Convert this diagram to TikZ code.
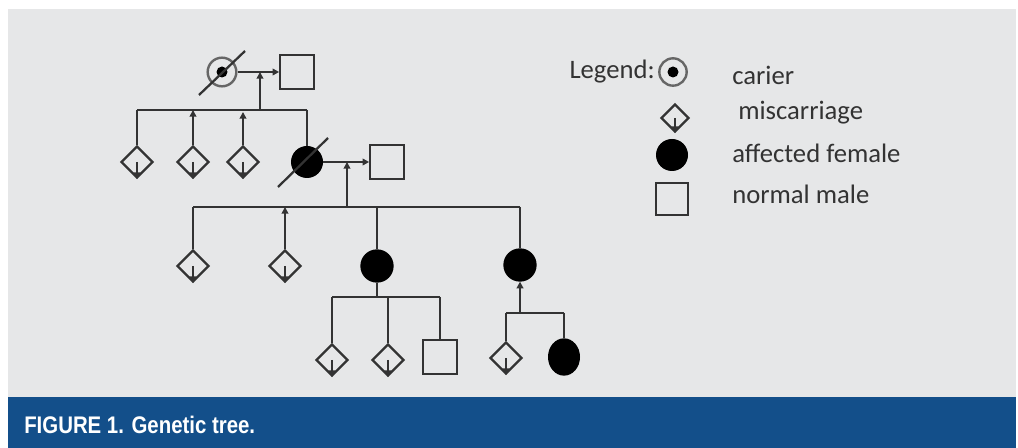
\documentclass[tikz,border=0pt]{standalone}
\usepackage{fontspec}
\setmainfont{Carlito}
\newfontfamily\capfont[FakeStretch=0.85]{Liberation Sans}
\usetikzlibrary{shapes.geometric,arrows.meta}
\definecolor{panel}{HTML}{E6E7E8}
\definecolor{bar}{HTML}{134F8A}
\definecolor{ink}{HTML}{333333}
\begin{document}
\begin{tikzpicture}[x=0.75pt,y=-0.75pt,
  line/.style={draw=ink,line width=1.7pt},
  tip/.style={-{Triangle[length=5pt,width=5pt]}},
  miss/.style={diamond,draw=ink,line width=1.7pt,minimum width=24pt,minimum height=24pt,inner sep=0pt},
  aff/.style={circle,fill=black,draw=black,line width=1pt,minimum size=23pt,inner sep=0pt},
  male/.style={rectangle,draw=ink,line width=1.7pt,minimum size=25pt,inner sep=0pt},
  carrier/.style={circle,draw=black!60,line width=1.8pt,minimum size=21.5pt,inner sep=0pt},
  lbl/.style={anchor=west,text=ink,font=\fontsize{20}{24}\selectfont,inner sep=0pt}
]
\useasboundingbox (0,0) rectangle (1018,448);
\fill[white] (0,0) rectangle (1018,448);
\fill[panel] (8,9) rectangle (1016,397);
\fill[bar] (8,397) rectangle (1016,448);
\node[anchor=base west,text=white,font=\capfont\bfseries\fontsize{18}{22}\selectfont,inner sep=0pt] (cap) at (24,434) {FIGURE 1. Genetic tree.};

% generation 1
\node[carrier] (c1) at (222,72) {};
\fill[black] (c1.center) circle[radius=5.5];
\node[male] (m1) at (297,72) {};
\draw[line] (199,95) coordinate (s1a) -- (245,51) coordinate (s1b);
\draw[line,tip] (c1.east) -- (m1.west);
\coordinate (mm1) at (260,72);
\coordinate (sib1) at (260,110);
\draw[line,tip] (sib1) -- (mm1);
\coordinate (s1l) at (137,110);
\coordinate (s1r) at (307,110);
\draw[line] (s1l) -- (s1r);

% generation 2
\node[miss] (g2a) at (137,162) {};
\node[miss] (g2b) at (193,162) {};
\node[miss] (g2c) at (243,162) {};
\node[aff] (f2) at (307,162) {};
\node[male] (m2) at (387,162) {};
\draw[line] (278,187) coordinate (s2a) -- (328,138) coordinate (s2b);
\coordinate (p2b) at (193,110);
\coordinate (p2c) at (243,112);
\draw[line] (s1l) -- (g2a.north);
\draw[line,tip] (g2b.north) -- (p2b);
\draw[line,tip] (g2c.north) -- (p2c);
\draw[line] (s1r) -- (f2.north);
\draw[line,tip] (f2.east) -- (m2.west);
\coordinate (mm2) at (347,162);
\coordinate (sib2) at (347,207);
\draw[line,tip] (sib2) -- (mm2);
\coordinate (s2l) at (193,207);
\coordinate (s2r) at (520,207);
\draw[line] (s2l) -- (s2r);

% generation 3
\node[miss] (g3a) at (193,266) {};
\node[miss] (g3b) at (285,266) {};
\node[aff,minimum size=24pt] (f3a) at (377,266) {};
\node[aff,minimum size=24pt] (f3b) at (520,265) {};
\coordinate (p3b) at (285,207);
\coordinate (p3c) at (377,207);
\draw[line] (s2l) -- (g3a.north);
\draw[line,tip] (g3b.north) -- (p3b);
\draw[line] (p3c) -- (f3a.north);
\draw[line] (s2r) -- (f3b.north);

% generation 4 (left family)
\coordinate (s3m) at (377,297);
\coordinate (s3l) at (332,297);
\coordinate (s3r) at (440,297);
\draw[line] (f3a.south) -- (s3m);
\draw[line] (s3l) -- (s3r);
\node[miss] (g4a) at (332,360) {};
\node[miss] (g4b) at (388,360) {};
\node[male,minimum size=25.5pt] (m4) at (440,357) {};
\coordinate (p4b) at (388,297);
\draw[line] (s3l) -- (g4a.north);
\draw[line] (p4b) -- (g4b.north);
\draw[line] (s3r) -- (m4.north);

% generation 4 (right family)
\coordinate (s4m) at (520,313);
\coordinate (s4l) at (506,313);
\coordinate (s4r) at (564,313);
\draw[line,tip] (s4m) -- (f3b.south);
\draw[line] (s4l) -- (s4r);
\node[miss] (g4c) at (506,358) {};
\node[ellipse,fill=black,draw=black,line width=1pt,minimum width=23pt,minimum height=27pt,inner sep=0pt] (f4) at (564,357) {};
\draw[line] (s4l) -- (g4c.north);
\draw[line] (s4r) -- (f4.north);

% miscarriage inner arrows
\foreach \d in {g2a,g2b,g2c,g3a,g3b,g4a,g4b,g4c}
  \draw[line,tip] (\d.center) -- (\d.south);

% legend
\node[anchor=east,text=ink,font=\fontsize{20}{24}\selectfont,inner sep=0pt] (leg) at (655,72) {Legend:};
\node[carrier,minimum size=20.5pt] (lc) at (673,72) {};
\fill[black] (lc.center) circle[radius=5.5];
\node[miss,minimum width=21pt,minimum height=21pt] (ld) at (675,118) {};
\draw[line,tip] (ld.center) -- (ld.south);
\node[aff] (la) at (672,155) {};
\node[male,minimum size=23.5pt] (lm) at (672,199) {};
\node[lbl] (t1) at (732,75) {carier};
\node[lbl] (t2) at (732,113) {\ miscarriage};
\node[lbl] (t3) at (732,153) {affected female};
\node[lbl] (t4) at (732,194) {normal male};
\end{tikzpicture}
\end{document}
